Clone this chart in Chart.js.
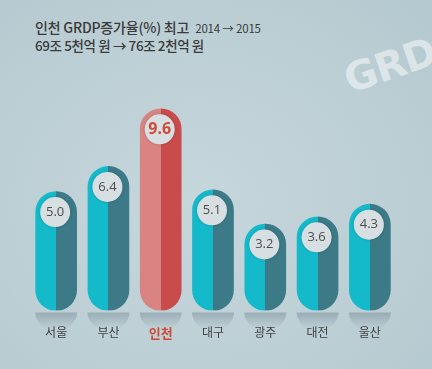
<!DOCTYPE html>
<html>
<head>
<meta charset="utf-8">
<script src="https://cdn.jsdelivr.net/npm/chart.js@4/dist/chart.umd.min.js"></script>
<style>
  html, body { margin: 0; padding: 0; }
  body { width: 432px; height: 369px; overflow: hidden; position: relative;
    background: radial-gradient(ellipse at 45% 55%, #c6d7dc 0%, #bccfd5 60%, #b4c8cf 100%);
    font-family: "Noto Sans CJK KR", "Noto Sans", sans-serif; }
  #wrap { position: absolute; left: 0; top: 0; width: 432px; height: 369px; }
  .t1 { position: absolute; left: 35px; top: 17px; font-size: 14px; font-weight: 500; color: #3a3a3a; letter-spacing: -0.2px; white-space: nowrap; }
  .t1 span { font-size: 11.5px; font-weight: 400; margin-left: 6px; }
  .t2 { position: absolute; left: 35px; top: 35px; font-size: 13.5px; font-weight: 500; color: #3a3a3a; letter-spacing: -0.4px; white-space: nowrap; }
  .mark { position: absolute; left: 353px; top: 56px; font-family: "DejaVu Sans", sans-serif; font-size: 40px; font-weight: 700;
    color: rgba(255,255,255,0.5); transform: rotate(-19deg); transform-origin: 0 100%; white-space: nowrap; letter-spacing: -1px; }
</style>
</head>
<body>
<div class="mark">GRDP</div>
<div class="t1">인천 GRDP증가율(%) 최고<span>2014 → 2015</span></div>
<div class="t2">69조 5천억 원 → 76조 2천억 원</div>
<div id="wrap"><canvas id="chart" width="432" height="369"></canvas></div>
<script>
// GRDP growth rate by city, 2014 -> 2015 (%)
const cities = ['서울', '부산', '인천', '대구', '광주', '대전', '울산'];
const growth = [5.0, 6.4, 9.6, 5.1, 3.2, 3.6, 4.3];
const highlight = 2; // 인천

const AXIS_MIN = -1.6;
const BAR_W = 41;

function barFill(c) {
  const chart = c.chart;
  const xs = chart.scales.x;
  if (!xs || !chart.chartArea) return '#17b8c8';
  const cx = xs.getPixelForValue(c.dataIndex);
  const hot = c.dataIndex === highlight;
  const g = chart.ctx.createLinearGradient(cx - BAR_W / 2, 0, cx + BAR_W / 2, 0);
  const a = hot ? '#d98383' : '#14b9ca';
  const b = hot ? '#c84c4c' : '#3b7a86';
  g.addColorStop(0, a); g.addColorStop(0.5, a);
  g.addColorStop(0.5, b); g.addColorStop(1, b);
  return g;
}

// soft reflection under each bar, then value badge on top
const badges = {
  id: 'badges',
  beforeDatasetsDraw(chart) {
    const ctx = chart.ctx;
    const bottom = chart.chartArea.bottom;
    chart.getDatasetMeta(0).data.forEach(el => {
      ctx.save();
      ctx.beginPath();
      ctx.rect(el.x - 30, bottom + 2, 60, 22);
      ctx.clip();
      const g = ctx.createLinearGradient(0, bottom, 0, bottom + 18);
      g.addColorStop(0, 'rgba(95,115,125,0.42)');
      g.addColorStop(1, 'rgba(95,115,125,0)');
      ctx.fillStyle = g;
      ctx.beginPath();
      ctx.ellipse(el.x, bottom + 2, 21, 18, 0, 0, Math.PI * 2);
      ctx.fill();
      ctx.restore();
    });
  },
  afterDatasetsDraw(chart) {
    const ctx = chart.ctx;
    chart.getDatasetMeta(0).data.forEach((el, i) => {
      const cy = el.y + BAR_W / 2;
      ctx.save();
      ctx.shadowColor = 'rgba(0,0,0,0.18)';
      ctx.shadowBlur = 3;
      ctx.fillStyle = '#d7dfe2';
      ctx.beginPath();
      ctx.arc(el.x - 1, cy, 15, 0, Math.PI * 2);
      ctx.fill();
      ctx.restore();
      const hot = i === highlight;
      ctx.fillStyle = hot ? '#d14a37' : '#4d4d4d';
      ctx.font = hot ? 'bold 16px "Open Sans", "Noto Sans", sans-serif' : '13px "Open Sans", "Noto Sans", sans-serif';
      ctx.textAlign = 'center';
      ctx.textBaseline = 'middle';
      ctx.fillText(growth[i].toFixed(1), el.x - 1, cy);
    });
  }
};

new Chart(document.getElementById('chart'), {
  type: 'bar',
  data: {
    labels: cities,
    datasets: [{
      data: growth,
      base: AXIS_MIN,
      barThickness: BAR_W,
      borderRadius: 21,
      borderSkipped: false,
      backgroundColor: barFill
    }]
  },
  options: {
    responsive: false,
    animation: false,
    devicePixelRatio: 1,
    layout: { padding: { left: 30, right: 36, top: 98, bottom: 13 } },
    plugins: { legend: { display: false }, tooltip: { enabled: false } },
    scales: {
      x: {
        grid: { display: false, drawTicks: false },
        border: { display: false },
        ticks: {
          padding: 15,
          color: c => c.index === highlight ? '#d14a37' : '#3f3f3f',
          font: c => ({
            family: '"Noto Sans CJK KR", sans-serif',
            size: c.index === highlight ? 13 : 12,
            weight: c.index === highlight ? 'bold' : 'normal'
          })
        }
      },
      y: { display: false, min: AXIS_MIN, max: 10.2 }
    }
  },
  plugins: [badges]
});
</script>
</body>
</html>
